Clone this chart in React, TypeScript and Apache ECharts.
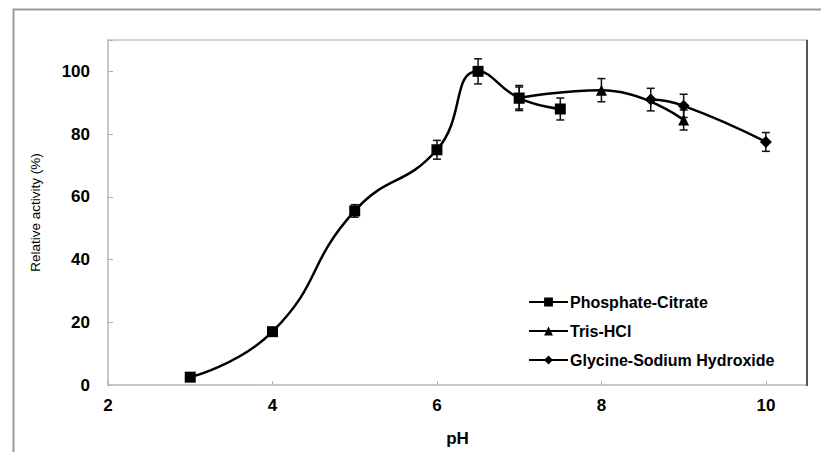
import React, { useEffect, useRef } from "react";
import * as echarts from "echarts";

const phosphatePH = [3, 4, 5, 6, 6.5, 7, 7.5];
const phosphateAct = [2.5, 17, 55.5, 75, 100, 91.5, 88];
const phosphateErr = [0.8, 1, 2, 3, 4, 4, 3.5];

const trisPH = [7, 8, 9];
const trisAct = [91.5, 94, 84.5];
const trisErr = [3.5, 3.7, 3.2];

const glycinePH = [8.6, 9, 10];
const glycineAct = [91, 89, 77.5];
const glycineErr = [3.6, 3.7, 3];

const xTicks = [2, 4, 6, 8, 10];
const yTicks = [0, 20, 40, 60, 80, 100];

const FONT = "'Liberation Sans', Arial, sans-serif";

function pairs(xs: number[], ys: number[]) {
  return xs.map((x, i) => [x, ys[i]]);
}

function errData(xs: number[], ys: number[], es: number[]) {
  return xs.map((x, i) => [x, ys[i] - es[i], ys[i] + es[i]]);
}

function errorSeries(data: number[][]) {
  return {
    type: "custom",
    silent: true,
    z: 1,
    data,
    renderItem: (_p: any, api: any) => {
      const x = api.value(0);
      const lo = api.coord([x, api.value(1)]);
      const hi = api.coord([x, api.value(2)]);
      const w = 4;
      const style = { stroke: "#111", lineWidth: 1.5 };
      return {
        type: "group",
        children: [
          { type: "line", shape: { x1: lo[0], y1: lo[1], x2: hi[0], y2: hi[1] }, style },
          { type: "line", shape: { x1: lo[0] - w, y1: lo[1], x2: lo[0] + w, y2: lo[1] }, style },
          { type: "line", shape: { x1: hi[0] - w, y1: hi[1], x2: hi[0] + w, y2: hi[1] }, style },
        ],
      };
    },
  };
}

function lineSeries(name: string, data: number[][], symbol: string, size: number) {
  return {
    name,
    type: "line",
    data,
    smooth: 0.5,
    symbol,
    symbolSize: size,
    showSymbol: true,
    z: 3,
    lineStyle: { color: "#000", width: 2.5 },
    itemStyle: { color: "#000", borderWidth: 0 },
  };
}

export default function App() {
  const ref = useRef<HTMLDivElement>(null);
  useEffect(() => {
    if (!ref.current) return;
    const chart = echarts.init(ref.current, undefined, { renderer: "svg" });
    chart.setOption({
      animation: false,
      backgroundColor: "#fff",
      grid: {
        left: 100,
        right: 22,
        top: 32,
        bottom: 66,
        show: true,
        borderColor: "#c4c4c4",
        borderWidth: 1.5,
      },
      legend: {
        orient: "vertical",
        left: 515,
        top: 281,
        itemWidth: 39,
        itemHeight: 11,
        itemGap: 13,
        textStyle: { fontFamily: FONT, fontSize: 16, fontWeight: "bold", color: "#000", padding: [0, 0, 0, -3] },
        data: ["Phosphate-Citrate", "Tris-HCl", "Glycine-Sodium Hydroxide"],
      },
      xAxis: {
        type: "value",
        min: 2,
        max: 10.5,
        interval: 2,
        name: "pH",
        nameLocation: "middle",
        nameGap: 45,
        nameTextStyle: { fontFamily: FONT, fontSize: 17, fontWeight: "bold", color: "#000" },
        axisLine: { show: true, lineStyle: { color: "#c4c4c4", width: 1.5 } },
        axisTick: { show: true, inside: true, length: 4, lineStyle: { color: "#b0b0b0" } },
        splitLine: { show: false },
        axisLabel: {
          margin: 12,
          fontFamily: FONT,
          fontSize: 17,
          fontWeight: "bold",
          color: "#000",
          showMaxLabel: false,
          formatter: (v: number) => (xTicks.includes(v) ? String(v) : ""),
        },
      },
      yAxis: {
        type: "value",
        min: 0,
        max: 110,
        interval: 20,
        name: "Relative activity (%)",
        nameLocation: "middle",
        nameGap: 66,
        nameTextStyle: { fontFamily: FONT, fontSize: 13.5, color: "#000" },
        axisLine: { show: true, lineStyle: { color: "#c4c4c4", width: 1.5 } },
        axisTick: { show: true, inside: true, length: 5, lineStyle: { color: "#b0b0b0" } },
        splitLine: { show: false },
        axisLabel: {
          margin: 18,
          fontFamily: FONT,
          fontSize: 17,
          fontWeight: "bold",
          color: "#000",
          formatter: (v: number) => (yTicks.includes(v) ? String(v) : ""),
        },
      },
      graphic: [
        {
          type: "rect",
          left: 3,
          top: -1,
          shape: { x: 0, y: 0, width: 900, height: 500 },
          style: { fill: "none", stroke: "#9a9a9a", lineWidth: 2 },
          z: 0,
          silent: true,
        },
        {
          type: "line",
          shape: { x1: 799, y1: 32, x2: 799, y2: 378 },
          style: { stroke: "#555", lineWidth: 2 },
          z: 10,
          silent: true,
        },
      ],
      series: [
        lineSeries("Phosphate-Citrate", pairs(phosphatePH, phosphateAct), "rect", 11),
        lineSeries("Tris-HCl", pairs(trisPH, trisAct), "triangle", 11),
        lineSeries("Glycine-Sodium Hydroxide", pairs(glycinePH, glycineAct), "diamond", 12),
        errorSeries(errData(phosphatePH, phosphateAct, phosphateErr)),
        errorSeries(errData(trisPH, trisAct, trisErr)),
        errorSeries(errData(glycinePH, glycineAct, glycineErr)),
      ],
    });
    return () => chart.dispose();
  }, []);
  return <div ref={ref} style={{ width: 821, height: 444 }} />;
}
